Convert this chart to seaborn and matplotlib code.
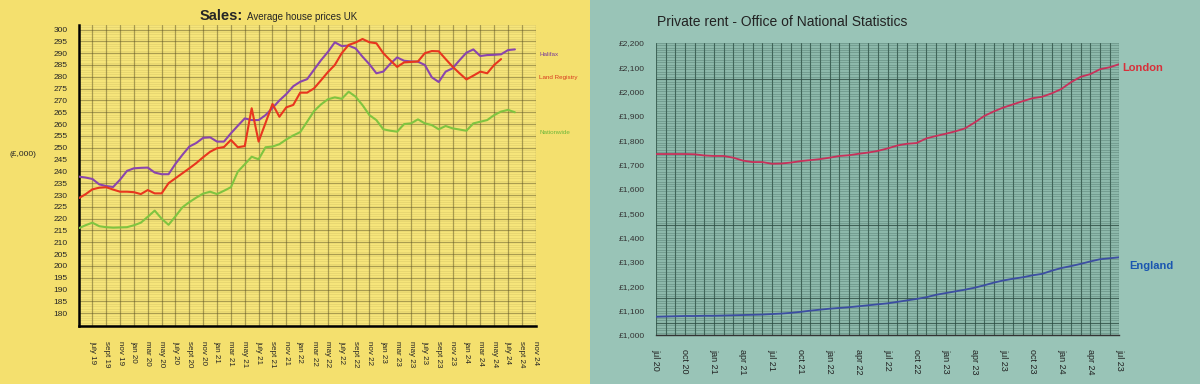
import numpy as np
import pandas as pd
import matplotlib
matplotlib.use("Agg")
import matplotlib.pyplot as plt
import matplotlib.ticker as mticker
from matplotlib.patches import Rectangle
import seaborn as sns

# ---- data: house prices (£,000), monthly from may 2019 ----
halifax = [237.8, 237.4, 236.8, 234.5, 233.8, 233.4, 236.5, 240.2, 241.3, 241.5,
           241.6, 239.5, 238.8, 238.8, 243.2, 247.0, 250.5, 252.0, 254.2, 254.4,
           252.6, 252.6, 256.1, 259.3, 262.4, 261.7, 261.7, 263.8, 266.8, 270.0,
           272.7, 276.0, 277.9, 279.0, 283.0, 287.0, 290.5, 294.6, 293.0, 293.2,
           292.0, 288.5, 285.3, 281.5, 282.2, 285.5, 288.2, 286.8, 286.5, 286.4,
           285.0, 279.8, 277.8, 282.2, 283.6, 287.0, 290.2, 291.6, 288.8, 289.2,
           289.3, 289.5, 291.3, 291.6]
land_registry = [228.6, 230.3, 232.4, 233.1, 233.3, 232.3, 231.4, 231.4, 231.2, 230.4,
                 232.1, 230.7, 230.7, 235.0, 237.1, 239.2, 241.3, 243.5, 246.0, 248.3,
                 249.8, 250.3, 253.3, 250.2, 250.7, 266.7, 252.6, 260.5, 268.5, 263.1,
                 267.1, 268.1, 273.3, 273.3, 275.1, 278.5, 282.0, 285.0, 290.0, 293.5,
                 294.5, 296.0, 294.6, 294.2, 290.0, 287.0, 284.2, 286.1, 286.3, 286.5,
                 290.0, 290.9, 290.8, 287.5, 284.3, 281.5, 278.9, 280.5, 282.2, 281.5,
                 285.0, 287.5]
nationwide = [215.9, 217.2, 218.3, 216.8, 216.4, 216.2, 216.3, 216.4, 217.2, 218.3,
              220.8, 223.4, 220.0, 217.4, 221.0, 224.8, 227.0, 228.9, 230.6, 231.4,
              230.4, 231.8, 233.3, 239.9, 243.0, 246.2, 245.1, 250.2, 250.5, 251.5,
              253.5, 255.2, 256.6, 261.0, 265.5, 268.3, 270.5, 271.3, 270.7, 273.7,
              271.6, 268.0, 263.8, 261.7, 257.8, 257.2, 256.8, 260.0, 260.3, 262.0,
              260.3, 259.6, 257.8, 259.2, 258.2, 257.7, 257.2, 260.3, 261.0, 261.7,
              263.8, 265.3, 266.0, 265.0]
sales_labels = ["", "july 19", "sept 19", "nov 19", "jan 20", "mar 20", "may 20",
                "july 20", "sept 20", "nov 20", "jan 21", "mar 21", "may 21",
                "july 21", "sept 21", "nov 21", "jan 22", "mar 22", "may 22",
                "july 22", "sept 22", "nov 22", "jan 23", "mar 23", "may 23",
                "july 23", "sept 23", "nov 23", "jan 24", "mar 24", "may 24",
                "july 24", "sept 24", "nov 24"]

# ---- data: private rent (£ per month), monthly from jul 2020 ----
london = [1743, 1743, 1743, 1743, 1742, 1737, 1735, 1735, 1728, 1716,
          1710, 1710, 1703, 1704, 1708, 1714, 1718, 1722, 1728, 1735,
          1738, 1744, 1749, 1756, 1766, 1778, 1785, 1788, 1807, 1817,
          1826, 1836, 1848, 1872, 1899, 1918, 1934, 1947, 1960, 1972,
          1978, 1992, 2010, 2038, 2060, 2071, 2091, 2099, 2112]
england = [1075, 1076, 1077, 1078, 1078, 1079, 1079, 1080, 1081, 1082,
           1083, 1084, 1086, 1088, 1091, 1095, 1100, 1104, 1108, 1111,
           1114, 1118, 1122, 1126, 1130, 1136, 1142, 1148, 1155, 1165,
           1172, 1179, 1186, 1194, 1204, 1215, 1224, 1231, 1237, 1245,
           1251, 1264, 1275, 1283, 1292, 1302, 1311, 1315, 1319]
rent_labels = ["jul 20", "oct 20", "jan 21", "apr 21", "jul 21", "oct 21",
               "jan 22", "apr 22", "jul 22", "oct 22", "jan 23", "apr 23",
               "jul 23", "oct 23", "jan 24", "apr 24", "jul 23"]

sns.set_style("white")
plt.rcParams['font.family'] = ['Liberation Sans', 'DejaVu Sans']

W, H = 1200, 384
fig = plt.figure(figsize=(W / 100, H / 100), dpi=100)


def box(x0, y0, x1, y1):
    # pixel box (top-left origin) -> figure fraction rect
    return [x0 / W, 1 - y1 / H, (x1 - x0) / W, (y1 - y0) / H]


# panel backgrounds
yellow = '#f4e06e'
teal = '#99c4b7'
fig.patches.append(Rectangle((0, 0), 590 / W, 1, transform=fig.transFigure,
                             facecolor=yellow, edgecolor='none', zorder=-10))
fig.patches.append(Rectangle((590 / W, 0), 1 - 590 / W, 1, transform=fig.transFigure,
                             facecolor=teal, edgecolor='none', zorder=-10))

# ================= left: sales =================
ax1 = fig.add_axes(box(78.5, 24.8, 535.7, 326))
ax1.set_facecolor('#f6e57a')
sales = pd.concat([
    pd.DataFrame({'month': np.arange(len(halifax)), 'price': halifax, 'src': 'Halifax'}),
    pd.DataFrame({'month': np.arange(len(land_registry)), 'price': land_registry, 'src': 'Land Registry'}),
    pd.DataFrame({'month': np.arange(len(nationwide)), 'price': nationwide, 'src': 'Nationwide'}),
])
sales_colors = {'Halifax': '#8a45ad', 'Land Registry': '#e8361e', 'Nationwide': '#80c440'}
sns.lineplot(data=sales, x='month', y='price', hue='src', palette=sales_colors,
             linewidth=1.5, legend=False, ax=ax1, zorder=5)
ax1.set_xlim(0, 66)
ax1.set_ylim(174.6, 302)
ax1.set_xticks(np.arange(0, 67, 2))
ax1.set_xticklabels(sales_labels, rotation=-90, fontsize=5.8, va='top', ha='center')
ax1.set_yticks(np.arange(180, 301, 5))
ax1.yaxis.set_minor_locator(mticker.MultipleLocator(1))
ax1.tick_params(axis='y', which='both', length=0, labelsize=6, pad=8)
ax1.tick_params(axis='x', which='major', direction='out', length=8, width=1.3,
                color='black', pad=3)
ax1.xaxis.grid(True, which='major', color='#5e5426', alpha=0.5, linewidth=0.9)
ax1.yaxis.grid(True, which='major', color='#5e5426', alpha=0.5, linewidth=0.9)
ax1.yaxis.grid(True, which='minor', color='#8a7c3a', alpha=0.15, linewidth=0.6)
ax1.set_axisbelow(True)
for s in ['top', 'right']:
    ax1.spines[s].set_visible(False)
for s in ['left', 'bottom']:
    ax1.spines[s].set_color('black')
    ax1.spines[s].set_linewidth(1.8)
ax1.set_xlabel('')
ax1.set_ylabel('')

fig.text(200 / W, 1 - 16 / H, 'Sales:', fontsize=10.5, fontweight='bold', va='center')
fig.text(247 / W, 1 - 17 / H, 'Average house prices UK', fontsize=7, va='center')
fig.text(10 / W, 1 - 155 / H, '(£,000)', fontsize=6, va='center')
fig.text(539 / W, 1 - 55 / H, 'Halifax', fontsize=4.5, color='#7a3d9a', va='center')
fig.text(539 / W, 1 - 78 / H, 'Land Registry', fontsize=4.5, color='#d83a1e', va='center')
fig.text(539 / W, 1 - 132 / H, 'Nationwide', fontsize=4.5, color='#6fb83a', va='center')

# ================= right: rent =================
ax2 = fig.add_axes(box(656, 42.7, 1119.3, 335))
ax2.set_facecolor('#8db9ab')
rent = pd.concat([
    pd.DataFrame({'month': np.arange(len(london)), 'rent': london, 'area': 'London'}),
    pd.DataFrame({'month': np.arange(len(england)), 'rent': england, 'area': 'England'}),
])
rent_colors = {'London': '#c8305a', 'England': '#3c4ea2'}
sns.lineplot(data=rent, x='month', y='rent', hue='area', palette=rent_colors,
             linewidth=1.3, legend=False, ax=ax2, zorder=5)
ax2.set_xlim(0, 48)
ax2.set_ylim(1000, 2200)
ax2.set_xticks(np.arange(0, 49, 3))
ax2.set_xticklabels(rent_labels, rotation=-90, fontsize=6.5, va='top', ha='center',
                    color='#222222')
ax2.xaxis.set_minor_locator(mticker.MultipleLocator(1))
ax2.set_yticks(np.arange(1000, 2201, 100))
ax2.yaxis.set_minor_locator(mticker.MultipleLocator(10))
ax2.yaxis.set_major_formatter(mticker.FuncFormatter(lambda v, p: f'£{int(v):,}'))
ax2.tick_params(axis='y', which='both', length=0, labelsize=6, pad=8, labelcolor='#333333')
ax2.tick_params(axis='x', which='major', direction='out', length=8, width=1, color='#333333', pad=2)
ax2.tick_params(axis='x', which='minor', direction='out', length=6, width=0.6, color='#555555')
ax2.xaxis.grid(True, which='both', color='#2e5045', alpha=0.8, linewidth=0.8)
ax2.yaxis.grid(True, which='both', color='#3f665a', alpha=0.45, linewidth=0.5)
for v in [1050, 1150, 1450, 2050]:
    ax2.axhline(v, color='#2c4a40', linewidth=0.8, alpha=0.7, zorder=1)
ax2.set_axisbelow(True)
for s in ['top', 'right', 'left']:
    ax2.spines[s].set_visible(False)
ax2.spines['bottom'].set_color('#333333')
ax2.spines['bottom'].set_linewidth(1)
ax2.set_xlabel('')
ax2.set_ylabel('')

fig.text(657 / W, 1 - 22 / H, 'Private rent - Office of National Statistics',
         fontsize=10, color='#222222', va='center')
fig.text(1122 / W, 1 - 68 / H, 'London', fontsize=8, fontweight='bold', color='#d8303a', va='center')
fig.text(1129 / W, 1 - 266 / H, 'England', fontsize=8, fontweight='bold', color='#1a56b0', va='center')

fig.savefig('out.png', dpi=100)
